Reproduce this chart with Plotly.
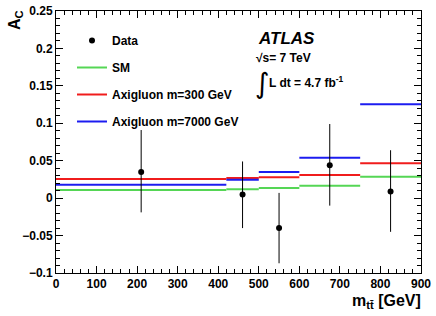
import plotly.graph_objects as go

# ---- data ----
bin_edges = [0, 420, 500, 600, 750, 900]
data_x = [210, 460, 550, 675, 825]
data_y = [0.035, 0.005, -0.040, 0.044, 0.009]
data_err_up = [0.056, 0.044, 0.047, 0.055, 0.055]
data_err_dn = [0.054, 0.045, 0.047, 0.054, 0.054]
sm = [0.011, 0.012, 0.0135, 0.0165, 0.0285]
axi300 = [0.0255, 0.027, 0.028, 0.031, 0.0465]
axi7000 = [0.018, 0.0245, 0.035, 0.054, 0.1255]

FONT = "Liberation Sans"
W, H = 436, 316
L, R, T, B = 56, 421, 11, 273


def px(x):
    return (x - L) / (R - L)


def py(y):
    return (B - y) / (B - T)


def steps(vals):
    xs, ys = [], []
    for i, v in enumerate(vals):
        xs += [bin_edges[i], bin_edges[i + 1], None]
        ys += [v, v, None]
    return xs, ys


fig = go.Figure()
for name, vals, col, rank in [("SM", sm, "#55d655", 2),
                              ("Axigluon m=300 GeV", axi300, "#f01c1c", 3),
                              ("Axigluon m=7000 GeV", axi7000, "#1c1cf0", 4)]:
    xs, ys = steps(vals)
    fig.add_trace(go.Scatter(x=xs, y=ys, mode="lines", name=name,
                             line=dict(color=col, width=2),
                             legendrank=rank, legendgroup=name))

fig.add_trace(go.Scatter(
    x=data_x, y=data_y, mode="markers", name="Data",
    marker=dict(color="black", size=6),
    error_y=dict(type="data", array=data_err_up, arrayminus=data_err_dn,
                 color="black", thickness=1, width=0),
    legendrank=1, legendgroup="Data"))

axis_common = dict(
    showline=True, linecolor="black", linewidth=1, mirror="allticks",
    ticks="inside", ticklen=7, tickcolor="black", showgrid=False,
    zeroline=False, automargin=False,
    tickfont=dict(family=FONT, size=12, color="black", weight="bold"),
)

fig.update_xaxes(range=[0, 900], dtick=100, tick0=0,
                 minor=dict(dtick=20, ticks="inside", ticklen=4,
                            tickcolor="black", showgrid=False),
                 **axis_common)
fig.update_yaxes(range=[-0.1, 0.25], dtick=0.05, tick0=0,
                 tickformat="~g",
                 minor=dict(dtick=0.01, ticks="inside", ticklen=4,
                            tickcolor="black", showgrid=False),
                 **axis_common)

annots = [
    dict(text="<i>ATLAS</i>", x=px(256), y=py(38), xanchor="left", yanchor="middle",
         font=dict(family=FONT, size=17, weight="bold")),
    dict(text="\u221as= 7 TeV", x=px(254), y=py(58), xanchor="left", yanchor="middle",
         font=dict(family=FONT, size=12, weight="bold")),
    dict(text="\u222b", x=px(253), y=py(84), xanchor="left", yanchor="middle",
         font=dict(family="DejaVu Sans", size=28)),
    dict(text="L dt = 4.7 fb<sup>-1</sup>", x=px(267), y=py(82), xanchor="left", yanchor="middle",
         font=dict(family=FONT, size=12, weight="bold")),
    dict(text="A<sub>C</sub>", x=px(15), y=py(20), xanchor="center", yanchor="middle",
         textangle=-90, font=dict(family=FONT, size=16, weight="bold")),
    dict(text="m<sub>tt\u0304</sub> [GeV]", x=px(423), y=py(301), xanchor="right", yanchor="middle",
         font=dict(family=FONT, size=16, weight="bold")),
]
for a in annots:
    a.update(xref="paper", yref="paper", showarrow=False)
    a["font"].setdefault("color", "black")
fig.update_layout(annotations=annots)

fig.update_layout(
    width=W, height=H,
    margin=dict(l=L, r=W - R, t=T, b=H - B),
    paper_bgcolor="white", plot_bgcolor="white",
    font=dict(family=FONT, color="black"),
    legend=dict(x=px(72), y=py(26), xanchor="left", yanchor="top",
                bgcolor="rgba(0,0,0,0)", tracegroupgap=8,
                font=dict(family=FONT, size=12, weight="bold", color="black"),
                itemwidth=30),
)

fig.write_html("out.html", config={"displayModeBar": False},
               post_script="document.body.style.margin='0';document.body.style.padding='0';")
